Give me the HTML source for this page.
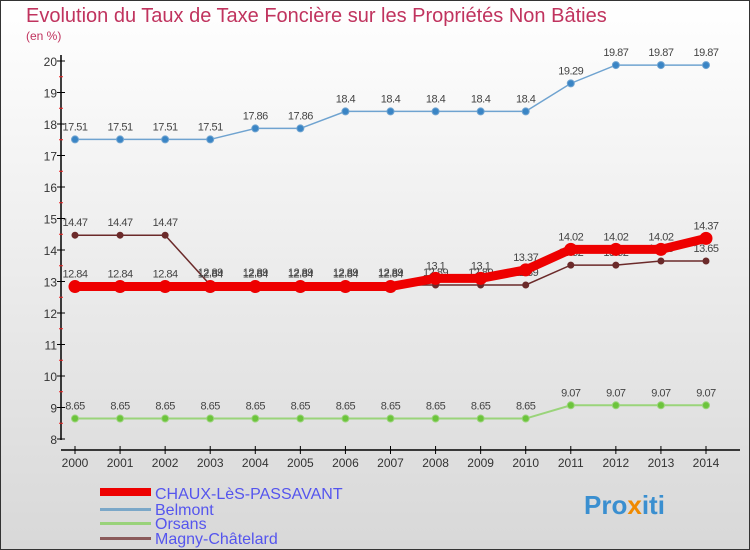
<!DOCTYPE html>
<html><head><meta charset="utf-8"><style>
body{margin:0;width:750px;height:550px;overflow:hidden;font-family:"Liberation Sans",sans-serif}
svg{display:block}
</style></head><body>
<svg id="c" width="750" height="550" xmlns="http://www.w3.org/2000/svg">
<defs><linearGradient id="bg" x1="0" y1="0" x2="0" y2="1"><stop offset="0" stop-color="#ffffff"/><stop offset="1" stop-color="#d8d8d8"/></linearGradient></defs>
<rect x="0.5" y="0.5" width="749" height="549" fill="url(#bg)" stroke="#333"/>
<text x="26" y="22" font-size="20" fill="#c0335e">Evolution du Taux de Taxe Foncière sur les Propriétés Non Bâties</text>
<text x="26" y="40" font-size="12" fill="#c0335e">(en %)</text>
<g id="axes"></g><g id="series"></g>
<g>
<rect x="100" y="488" width="51" height="8" fill="#e00"/>
<text x="155" y="499" font-size="16" fill="#5555ee">CHAUX-LèS-PASSAVANT</text>
<rect x="100" y="508" width="51" height="3" fill="#7ba7c8"/>
<text x="155" y="515" font-size="16" fill="#5555ee">Belmont</text>
<rect x="100" y="522" width="51" height="3" fill="#99d27a"/>
<text x="155" y="529" font-size="16" fill="#5555ee">Orsans</text>
<rect x="100" y="537" width="51" height="3" fill="#8a5a5a"/>
<text x="155" y="544" font-size="16" fill="#5555ee">Magny-Châtelard</text>
</g>
<text x="584" y="514" font-size="26" font-weight="bold" fill="#3a8fd0">Pro<tspan fill="#f08a00">x</tspan>iti</text>
</svg>
<script>
const years=[2000,2001,2002,2003,2004,2005,2006,2007,2008,2009,2010,2011,2012,2013,2014];
const yTicks=[8,9,10,11,12,13,14,15,16,17,18,19,20];
const chaux=[12.84,12.84,12.84,12.84,12.84,12.84,12.84,12.84,13.1,13.1,13.37,14.02,14.02,14.02,14.37];
const belmont=[17.51,17.51,17.51,17.51,17.86,17.86,18.4,18.4,18.4,18.4,18.4,19.29,19.87,19.87,19.87];
const orsans=[8.65,8.65,8.65,8.65,8.65,8.65,8.65,8.65,8.65,8.65,8.65,9.07,9.07,9.07,9.07];
const magny=[14.47,14.47,14.47,12.89,12.89,12.89,12.89,12.89,12.89,12.89,12.89,13.52,13.52,13.65,13.65];
const NS="http://www.w3.org/2000/svg";
function X(i){return 75+(706-75)*i/(years.length-1);}
function Y(v){return 439-(v-8)*(439-61)/12;}
function mk(t,a,p){const e=document.createElementNS(NS,t);for(const k in a)e.setAttribute(k,a[k]);p.appendChild(e);return e;}
const ax=document.getElementById('axes');
let l=mk('line',{x1:61,y1:55,x2:61,y2:440,stroke:'#000','stroke-width':1.5},ax);


l=mk('line',{x1:61,y1:450,x2:740,y2:450,stroke:'#000','stroke-width':1.5},ax);


yTicks.forEach(v=>{
 mk('line',{x1:57,y1:Y(v),x2:65,y2:Y(v),stroke:'#000'},ax);
 if(v<20)mk('line',{x1:59,y1:Y(v+0.5),x2:63,y2:Y(v+0.5),stroke:'#e22'},ax);
 const t=mk('text',{x:57,y:Y(v)+5,'font-size':12,fill:'#333','text-anchor':'end'},ax);
 t.textContent=v;
 
 
});
years.forEach((y,i)=>{
 mk('line',{x1:X(i),y1:446,x2:X(i),y2:454,stroke:'#000'},ax);
 const t=mk('text',{x:X(i),y:467,'font-size':12,fill:'#333','text-anchor':'middle'},ax);
 t.textContent=y;
 
 
});
const sg=document.getElementById('series');
function series(name,vals,color,w,r,dot){
 const g=mk('g',{},sg);
 
 
 mk('polyline',{points:vals.map((v,i)=>X(i)+','+Y(v)).join(' '),fill:'none',stroke:color,'stroke-width':w},g);
 vals.forEach((v,i)=>{
  const c=mk('circle',{cx:X(i),cy:Y(v),r:r,fill:dot,stroke:color,'stroke-width':1},g);
  
  
  const t=mk('text',{x:X(i),y:Y(v)-9,'font-size':11,fill:'#444','text-anchor':'middle','letter-spacing':'-0.5'},g);
  t.textContent=v;
  
  
 });
}
series('belmont',belmont,'#6fa3d0',1.5,3.5,'#3a85c5');
series('orsans',orsans,'#9ad47a',2,3.5,'#6cc43c');
series('magny',magny,'#6b2a2a',1.5,3,'#6b2a2a');
series('chaux',chaux,'#ee0000',9,6,'#ee0000');
</script>
</body></html>
